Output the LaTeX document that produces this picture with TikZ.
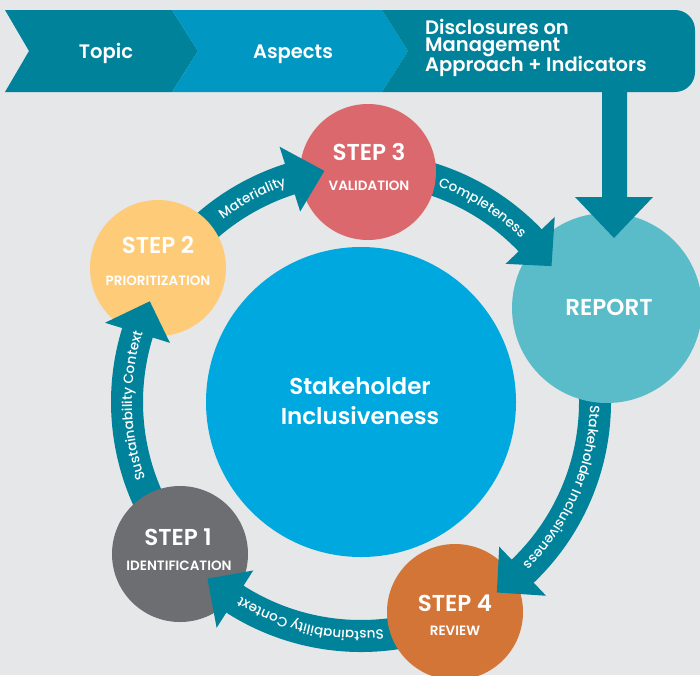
\documentclass[tikz,border=0pt]{standalone}
\usepackage{fontspec}
\setmainfont{Poppins}[UprightFont={* Medium},BoldFont={* SemiBold}]
\usetikzlibrary{decorations.text}

\definecolor{paper}{HTML}{E6E7E8}
\definecolor{flowteal}{HTML}{00829B}
\definecolor{aspectblue}{HTML}{0097C2}
\definecolor{coreblue}{HTML}{00A8E0}
\definecolor{reportcyan}{HTML}{5BBCC9}
\definecolor{stepgray}{HTML}{6D6E71}
\definecolor{stepyellow}{HTML}{FECB78}
\definecolor{stepred}{HTML}{DB686D}
\definecolor{steporange}{HTML}{D47538}

% radii of the ring the step arrows run on
\newcommand\ringR{234}
\newcommand\bandin{218}
\newcommand\bandout{250}
\newcommand\headin{200}
\newcommand\headout{268}
\newcommand\flowfont{\fontsize{13.5}{13.5}\selectfont}

% body of a ring arrow, from angle #1 to angle #2
\newcommand\flowband[2]{%
  \fill[flowteal] (#1:\bandout) arc[start angle=#1,end angle=#2,radius=\bandout]
    -- (#2:\bandin) arc[start angle=#2,end angle=#1,radius=\bandin] -- cycle;}
% head of a ring arrow, base at angle #1, tip at angle #2
\newcommand\flowhead[2]{%
  \fill[flowteal] (#1:\headout) -- (#2:\ringR) -- (#1:\headin) -- cycle;}
% label written along the ring between #1 and #2
\newcommand\flowlabel[3]{%
  \path[decorate,decoration={text along path,text align=center,text color=white,
    text={|\flowfont|#3}}] (#1:229) arc[start angle=#1,end angle=#2,radius=229];}

\begin{document}
\begin{tikzpicture}[x=1pt,y=-1pt,
  stepdisc/.style={circle,minimum size=136pt,inner sep=0pt},
  steptitle/.style={text=white,inner sep=0pt,font=\bfseries\fontsize{23}{23}\selectfont},
  stepname/.style={text=white,inner sep=0pt,font=\bfseries\fontsize{13.5}{13.5}\selectfont},
  bannertext/.style={text=white,inner sep=0pt,font=\bfseries\fontsize{19.5}{19.5}\selectfont}]
\useasboundingbox (0,0) rectangle (700,675);
\fill[paper] (0,0) rectangle (700,675);
\coordinate (hub) at (361,402);

% banner
\fill[flowteal] (5,10) -- (172,10) -- (198,51) -- (172,92) -- (5,92) -- (29,51) -- cycle;
\fill[aspectblue] (172,10) -- (382,10) -- (408,51) -- (382,92) -- (172,92) -- (198,51) -- cycle;
\fill[flowteal] (382,10) [rounded corners=20pt]-- (695,10) -- (695,92) [sharp corners]-- (382,92) -- (408,51) -- cycle;
\node[bannertext,anchor=base] (topic) at (106,58) {Topic};
\node[bannertext,anchor=base] (aspects) at (293,58) {Aspects};
\node[bannertext,anchor=north west,align=left] (dma) at (425,19)
  {Disclosures on\\[-2pt]Management\\[-2pt]Approach + Indicators};

% arrow bodies sit under the discs
\begin{scope}[shift={(hub)}]
  \flowband{220}{252.5}
  \flowband{280}{316.5}
  \flowband{345}{406.5}
  \flowband{76}{123}
  \flowband{148}{197.5}
\end{scope}

% discs
\node[stepdisc,fill=coreblue,minimum size=310pt] (core) at (hub) {};
\node[stepdisc,fill=stepyellow] (step2) at (158,268) {};
\node[stepdisc,fill=stepred] (step3) at (368,172) {};
\node[stepdisc,fill=reportcyan,minimum size=190pt] (report) at (607,308) {};
\node[stepdisc,fill=steporange] (step4) at (455,612) {};
\node[stepdisc,fill=stepgray] (step1) at (180,554) {};

% arrow heads and labels on top
\begin{scope}[shift={(hub)}]
  \flowhead{252.3}{261}
  \flowhead{316.3}{324.5}
  \flowhead{406.3}{414.5}
  \flowhead{122.6}{131}
  \flowhead{197.2}{205.5}
  \flowlabel{228}{256}{Materiality}
  \flowlabel{286}{318}{Completeness}
  \flowlabel{352}{414}{Stakeholder Inclusiveness}
  \flowlabel{80}{126}{Sustainability Context}
  \flowlabel{155}{203}{Sustainability Context}
\end{scope}

% banner feeds the report
\fill[flowteal] (602,90) -- (627,90) -- (627,197) -- (653,197) -- (614,238)
  -- (575,197) -- (602,197) -- cycle;

% disc texts
\node[steptitle] (step2t) at (158,245) {STEP 2};
\node[stepname] (step2n) at (158,281) {PRIORITIZATION};
\node[steptitle] (step3t) at (369,152) {STEP 3};
\node[stepname] (step3n) at (369,186) {VALIDATION};
\node[steptitle] (step1t) at (178,537) {STEP 1};
\node[stepname] (step1n) at (179,566) {IDENTIFICATION};
\node[steptitle] (step4t) at (455,603) {STEP 4};
\node[stepname] (step4n) at (455,631) {REVIEW};
\node[steptitle] (reportt) at (609,307) {REPORT};
\node[text=white,align=center,font=\bfseries\fontsize{23}{30}\selectfont] (coret) at (360,401)
  {Stakeholder\\Inclusiveness};
\end{tikzpicture}
\end{document}
